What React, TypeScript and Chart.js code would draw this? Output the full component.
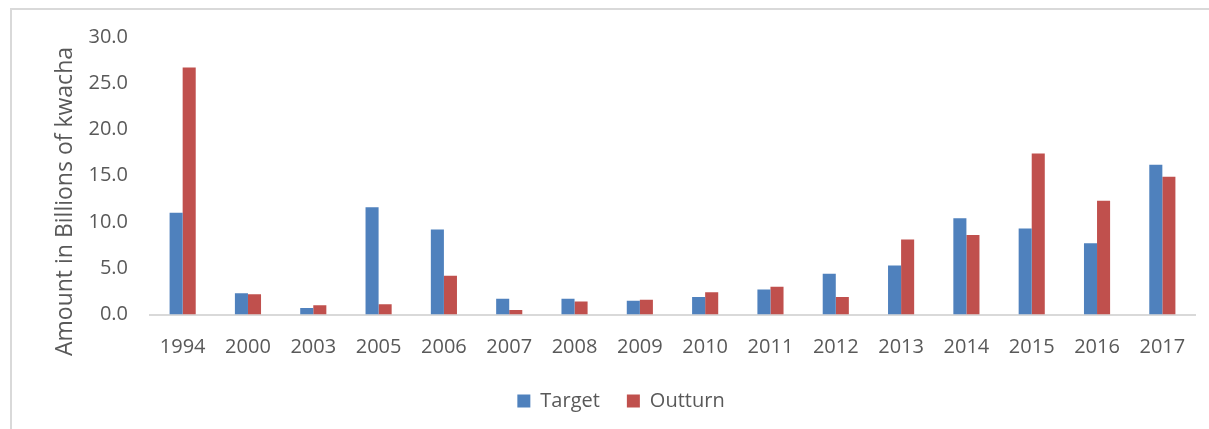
import React, { useEffect, useRef } from "react";
import { Chart, registerables } from "chart.js";

Chart.register(...registerables);

const years = ["1994", "2000", "2003", "2005", "2006", "2007", "2008", "2009", "2010", "2011", "2012", "2013", "2014", "2015", "2016", "2017"];
const targetValues = [11.0, 2.3, 0.7, 11.6, 9.2, 1.7, 1.7, 1.5, 1.9, 2.7, 4.4, 5.3, 10.4, 9.3, 7.7, 16.2];
const outturnValues = [26.7, 2.2, 1.0, 1.1, 4.2, 0.5, 1.4, 1.6, 2.4, 3.0, 1.9, 8.1, 8.6, 17.4, 12.3, 14.9];
const yTitle = "Amount in Billions of kwacha";

const FONT = "'Open Sans'";
const TEXT = "#595959";

const yTitlePlugin = {
  id: "yTitlePlugin",
  afterDraw(chart: any) {
    const ctx = chart.ctx;
    ctx.save();
    ctx.translate(53, 191.5);
    ctx.rotate(-Math.PI / 2);
    ctx.font = `23px ${FONT}`;
    ctx.fillStyle = TEXT;
    ctx.textAlign = "center";
    ctx.textBaseline = "middle";
    ctx.fillText(yTitle, 0, 0);
    ctx.restore();
  },
};

export default function App() {
  const ref = useRef<HTMLCanvasElement | null>(null);
  useEffect(() => {
    if (!ref.current) return;
    const chart = new Chart(ref.current, {
      type: "bar",
      data: {
        labels: years,
        datasets: [
          { label: "Target", data: targetValues, backgroundColor: "#4F81BD", categoryPercentage: 0.4, barPercentage: 1 },
          { label: "Outturn", data: outturnValues, backgroundColor: "#C0504D", categoryPercentage: 0.4, barPercentage: 1 },
        ],
      },
      options: {
        animation: false,
        responsive: false,
        maintainAspectRatio: false,
        layout: { padding: { left: 35, right: 35, top: 27, bottom: 9 } },
        plugins: {
          tooltip: { enabled: false },
          legend: {
            position: "bottom",
            labels: {
              boxWidth: 13,
              boxHeight: 13,
              padding: 27,
              color: TEXT,
              font: { family: FONT, size: 20 },
            },
          },
        },
        scales: {
          x: {
            grid: { display: false, drawTicks: false },
            border: { display: true, color: "#d9d9d9", width: 2 },
            ticks: { color: TEXT, font: { family: FONT, size: 20 }, padding: 21, maxRotation: 0, autoSkip: false },
            afterFit: (s: any) => { s.height = 49.5; s.paddingLeft = 0; s.paddingRight = 0; },
          },
          y: {
            min: 0,
            max: 30,
            grid: { display: false, drawTicks: false },
            border: { display: false },
            ticks: {
              stepSize: 5,
              color: TEXT,
              font: { family: FONT, size: 20 },
              padding: 22,
              callback: (v: any) => Number(v).toFixed(1),
            },
            afterFit: (s: any) => { s.width = 103; s.paddingTop = 0; s.paddingBottom = 0; },
          },
        },
      },
      plugins: [yTitlePlugin],
    });
    return () => chart.destroy();
  }, []);

  return (
    <div style={{ position: "fixed", left: 0, top: 0, width: 1209, height: 429, overflow: "hidden", background: "#fff" }}>
      <div style={{ position: "absolute", left: 10, top: 8, width: 1218, height: 440, border: "2px solid #d9d9d9" }}>
        <canvas ref={ref} width={1218} height={420} style={{ display: "block" }} />
      </div>
    </div>
  );
}
